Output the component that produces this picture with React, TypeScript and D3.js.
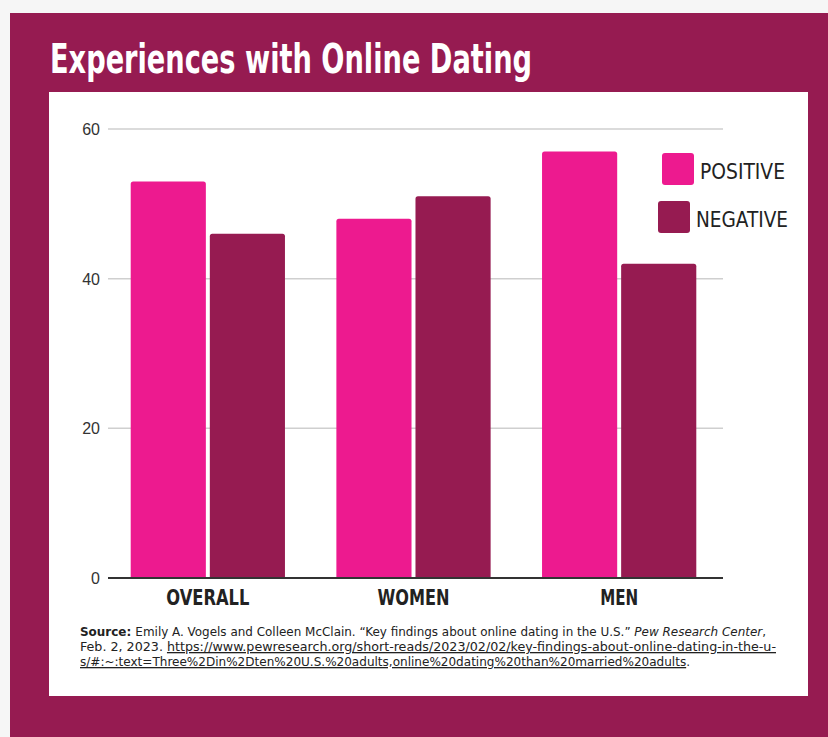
import React, {useRef, useEffect} from 'react';
import * as d3 from "d3";

const categories = ["OVERALL", "WOMEN", "MEN"];
const seriesNames = ["POSITIVE", "NEGATIVE"];
const positive = [53, 48, 57];
const negative = [46, 51, 42];
const yTicks = [0, 20, 40, 60];

const PINK = "#ED1A8F";
const MAROON = "#961B51";
const NARROW = "'Liberation Sans Narrow', 'DejaVu Sans Condensed', sans-serif";

function App() {
  const canvas = useRef<HTMLDivElement>(null);

  useEffect(() => {
    document.body.style.margin = "0";
    const width = 828, height = 737;
    d3.select(canvas.current).select('svg').remove();

    const svg = d3.select(canvas.current)
      .append("svg")
      .attr("width", width)
      .attr("height", height)
      .style("display", "block");

    // backgrounds
    svg.append("rect").attr("width", width).attr("height", height).attr("fill", "#f6f6f6");
    svg.append("rect").attr("x", 10).attr("y", 13).attr("width", width - 10).attr("height", height - 13).attr("fill", MAROON);
    svg.append("rect").attr("x", 49).attr("y", 92).attr("width", 759).attr("height", 604).attr("fill", "#fff");

    // title
    svg.append("text")
      .attr("x", 50).attr("y", 73)
      .attr("fill", "#fff")
      .style("font-family", NARROW)
      .style("font-weight", "bold")
      .style("font-size", "40px")
      .attr("textLength", 482)
      .attr("lengthAdjust", "spacingAndGlyphs")
      .text("Experiences with Online Dating");

    const data = categories.map((c, i) => ({cat: c, values: [positive[i], negative[i]]}));

    const y = d3.scaleLinear().domain([0, 60]).range([578, 129]);
    const x0 = d3.scaleBand().domain(categories).range([105, 722]).paddingInner(0.25).paddingOuter(0.125);
    const x1 = d3.scaleBand().domain(seriesNames).range([0, x0.bandwidth()]).paddingInner(0.05);
    const color = d3.scaleOrdinal<string, string>().domain(seriesNames).range([PINK, MAROON]);

    // gridlines
    const grid = svg.append("g");
    grid.selectAll("line")
      .data(yTicks.filter(t => t > 0))
      .enter().append("line")
      .attr("x1", 108).attr("x2", 723)
      .attr("y1", d => y(d)).attr("y2", d => y(d))
      .attr("stroke", "#cfcfcf").attr("stroke-width", 1.5);

    // y tick labels
    svg.append("g").selectAll("text")
      .data(yTicks)
      .enter().append("text")
      .attr("x", 100).attr("y", d => y(d) + 6)
      .attr("text-anchor", "end")
      .attr("fill", "#333")
      .style("font-family", "'Liberation Sans', Arial, sans-serif")
      .style("font-size", "16px")
      .text(d => d);

    // bars
    const groups = svg.append("g").selectAll("g")
      .data(data)
      .enter().append("g")
      .attr("transform", d => `translate(${x0(d.cat)}, 0)`);
    groups.selectAll("path")
      .data(d => d.values.map((v, i) => ({key: seriesNames[i], value: v})))
      .enter().append("path")
      .attr("d", d => {
        const bx = x1(d.key)!, bw = x1.bandwidth(), top = y(d.value), bot = y(0), r = 2.5;
        return `M${bx},${bot}V${top + r}Q${bx},${top} ${bx + r},${top}H${bx + bw - r}Q${bx + bw},${top} ${bx + bw},${top + r}V${bot}Z`;
      })
      .attr("fill", d => color(d.key));

    // zero axis line
    svg.append("line")
      .attr("x1", 108).attr("x2", 723)
      .attr("y1", y(0)).attr("y2", y(0))
      .attr("stroke", "#333").attr("stroke-width", 2);

    // category labels
    const catWidths = [83, 72, 38];
    svg.append("g").selectAll("text")
      .data(categories)
      .enter().append("text")
      .attr("x", d => x0(d)! + x0.bandwidth() / 2)
      .attr("y", 605)
      .attr("text-anchor", "middle")
      .attr("fill", "#222")
      .style("font-family", NARROW)
      .style("font-weight", "bold")
      .style("font-size", "22px")
      .attr("textLength", (d, i) => catWidths[i])
      .attr("lengthAdjust", "spacingAndGlyphs")
      .text(d => d);

    // legend
    const legPos = [{x: 662, y: 153, w: 85}, {x: 658, y: 201, w: 92}];
    const leg = svg.append("g").selectAll("g")
      .data(seriesNames)
      .enter().append("g")
      .attr("transform", (d, i) => `translate(${legPos[i].x}, ${legPos[i].y})`);
    leg.append("rect")
      .attr("width", 32).attr("height", 32).attr("rx", 3)
      .attr("fill", d => color(d));
    leg.append("text")
      .attr("x", 38).attr("y", 26)
      .attr("fill", "#222")
      .style("font-family", NARROW)
      .style("font-size", "22px")
      .attr("textLength", (d, i) => legPos[i].w)
      .attr("lengthAdjust", "spacingAndGlyphs")
      .text(d => d);

    // source note
    const src = svg.append("g")
      .attr("fill", "#222")
      .style("font-family", NARROW)
      .style("font-size", "13px");
    const l1 = src.append("text").attr("x", 80).attr("y", 636)
      .attr("textLength", 686).attr("lengthAdjust", "spacingAndGlyphs");
    l1.append("tspan").style("font-weight", "bold").text("Source: ");
    l1.append("tspan").text("Emily A. Vogels and Colleen McClain. \u201CKey findings about online dating in the U.S.\u201D ");
    l1.append("tspan").style("font-style", "italic").text("Pew Research Center");
    l1.append("tspan").text(",");
    const l2 = src.append("text").attr("x", 80).attr("y", 651)
      .attr("textLength", 696).attr("lengthAdjust", "spacingAndGlyphs");
    l2.append("tspan").text("Feb. 2, 2023. ");
    l2.append("tspan").style("text-decoration", "underline")
      .text("https://www.pewresearch.org/short-reads/2023/02/02/key-findings-about-online-dating-in-the-u-");
    const l3 = src.append("text").attr("x", 80).attr("y", 666)
      .attr("textLength", 610).attr("lengthAdjust", "spacingAndGlyphs");
    l3.append("tspan").style("text-decoration", "underline")
      .text("s/#:~:text=Three%2Din%2Dten%20U.S.%20adults,online%20dating%20than%20married%20adults");
    l3.append("tspan").text(".");
  }, []);

  return (
    <div ref={canvas}></div>
  );
}

export default App;
